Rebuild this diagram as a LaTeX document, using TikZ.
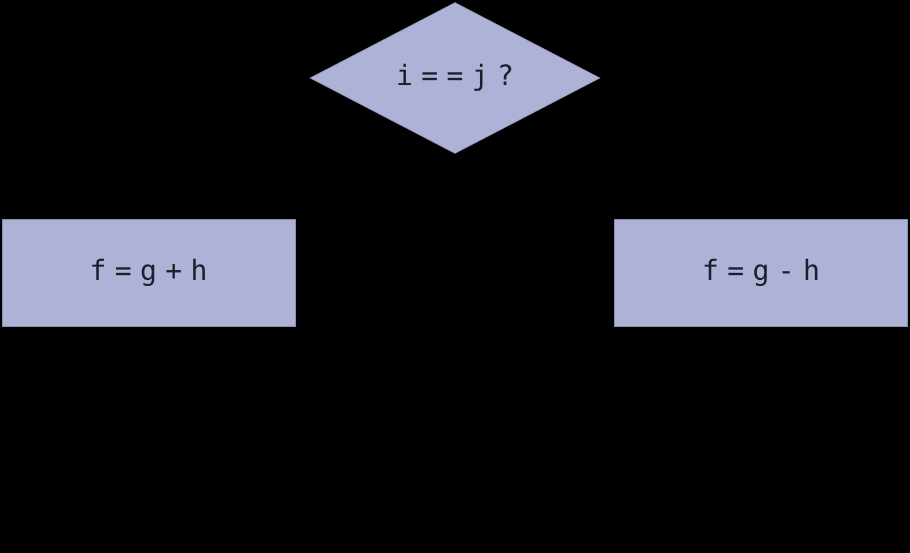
\documentclass[tikz,border=0pt]{standalone}
\usepackage{fontspec}
\newfontfamily\codefont[LetterSpace=30]{DejaVu Sans Mono}
\definecolor{tint2}{HTML}{AFB2D7}
\definecolor{edge2}{HTML}{8C8FB0}
\definecolor{ink}{HTML}{1E1E2A}
\usetikzlibrary{shapes.geometric}

\begin{document}
\begin{tikzpicture}[
  x=1pt, y=-1pt,
  box/.style ={draw=edge2, line width=0.6pt, fill=tint2, inner sep=0pt,
               minimum width=293pt, minimum height=107pt,
               font=\codefont\fontsize{28}{30}\selectfont, text=ink},
  dec/.style ={diamond, draw=edge2, line width=0.6pt, fill=tint2, inner sep=0pt,
               minimum width=290pt, minimum height=151pt,
               font=\codefont\fontsize{28}{30}\selectfont, text=ink},
]
  % ---- 背景 ----
  \fill[black] (0,0) rectangle (910,553);
  \useasboundingbox (0,0) rectangle (910,553);

  % ---- 判断与两个分支 ----
  \node[dec] (cond)     at (455,78)    {i==j?};
  \node[box] (thenbox)  at (148.5,272.5) {f=g+h};
  \node[box] (elsebox)  at (761,272.5)   {f=g-h};
\end{tikzpicture}
\end{document}
